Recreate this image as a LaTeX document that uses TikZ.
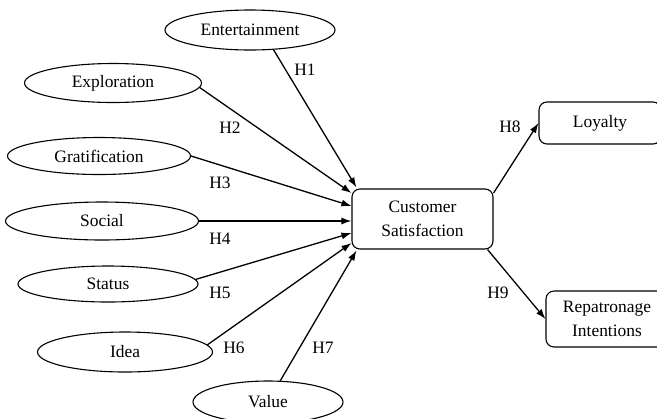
\documentclass[tikz,border=0pt]{standalone}
\usepackage{fontspec}
\setmainfont{Liberation Serif}
\usetikzlibrary{arrows.meta,shapes.geometric}
\begin{document}
\begin{tikzpicture}[x=1bp,y=-1bp,
  every node/.style={font=\fontsize{17.5}{23.5}\selectfont},
  oval/.style={ellipse,draw,line width=1.1bp,inner sep=0pt},
  rbox/.style={draw,rounded corners=8bp,line width=1.1bp,align=center,inner sep=0pt},
  conn/.style={line width=1.3bp,-{Latex[length=10bp,width=7bp]}},
  lab/.style={inner sep=0pt}]
\clip (0,0) rectangle (657,418);
\node[oval,minimum width=170bp,minimum height=40bp] (ent) at (250,30) {Entertainment};
\node[oval,minimum width=177bp,minimum height=39bp] (exp) at (113,83) {Exploration};
\node[oval,minimum width=183bp,minimum height=37bp] (gra) at (99,156) {Gratification};
\node[oval,minimum width=193bp,minimum height=38bp] (soc) at (102,221) {Social};
\node[oval,minimum width=180bp,minimum height=36bp] (sta) at (108,284) {Status};
\node[oval,minimum width=175bp,minimum height=40bp] (ide) at (125,352) {Idea};
\node[oval,minimum width=150bp,minimum height=42bp] (val) at (268,402) {Value};
\node[rbox,minimum width=141bp,minimum height=60bp] (cs) at (422.5,219) {Customer\\Satisfaction};
\node[rbox,minimum width=122bp,minimum height=42bp] (loy) at (600,123) {Loyalty};
\node[rbox,minimum width=122bp,minimum height=56bp] (rep) at (607,319) {Repatronage\\Intentions};
\draw[conn] (ent.-40) -- ([shift={(5,-1)}]cs.north west);
\draw[conn] (exp.-3) -- ([shift={(0,-26)}]cs.west);
\draw[conn] (gra.east) -- ([shift={(0,-13)}]cs.west);
\draw[conn] (soc.east) -- (soc.east -| cs.west);
\draw[conn] (sta.3) -- ([shift={(0,14)}]cs.west);
\draw[conn] (ide.5) -- ([shift={(0,24)}]cs.west);
\draw[conn] (val.60) -- ([shift={(5,1)}]cs.south west);
\draw[conn] ([shift={(0,-26)}]cs.east) -- (loy.west);
\draw[conn] ([shift={(-6,0)}]cs.south east) -- (rep.west);
\node[lab] (l1) at (305,70) {H1};
\node[lab] (l2) at (230,128) {H2};
\node[lab] (l3) at (220,183) {H3};
\node[lab] (l4) at (220,239) {H4};
\node[lab] (l5) at (220,293) {H5};
\node[lab] (l6) at (234,348) {H6};
\node[lab] (l7) at (323,348) {H7};
\node[lab] (l8) at (510,127) {H8};
\node[lab] (l9) at (498,293) {H9};
\end{tikzpicture}
\end{document}
